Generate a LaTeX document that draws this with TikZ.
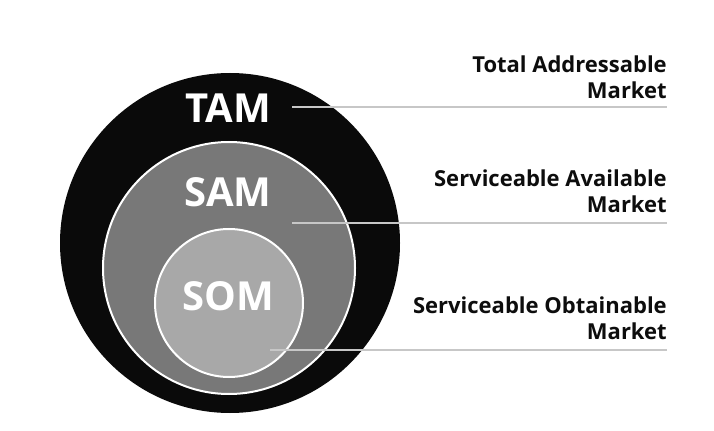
\documentclass[tikz,border=0pt]{standalone}
\usepackage{fontspec}
\setmainfont{Open Sans}
\begin{document}
\begin{tikzpicture}[x=0.75pt,y=-0.75pt,
  ring/.style={circle,draw=white,line width=1.5pt,inner sep=0pt},
  big/.style={text=white,font=\fontsize{30pt}{32pt}\selectfont\bfseries,inner sep=0pt,anchor=base},
  lab/.style={font=\fontsize{16.5pt}{19.5pt}\selectfont\bfseries,align=right,inner sep=0pt,text depth=0pt,anchor=south east,text=black!95},
  leader/.style={draw=black!22,line width=1.5pt}]
\useasboundingbox (0,0) rectangle (714,431);
\fill[white] (0,0) rectangle (714,431);
\node[circle,fill=black!96,minimum size=340*0.75pt,inner sep=0pt] (tam) at (230,243) {};
\node[ring,fill=black!53,minimum size=252*0.75pt] (sam) at (229,268) {};
\node[ring,fill=black!34,minimum size=148*0.75pt] (som) at (229,303) {};
\node[big] (tamt) at (228,123) {TAM};
\node[big] (samt) at (228,207) {SAM};
\node[big] (somt) at (228,310) {SOM};
\node[lab] (taml) at (667,99) {Total Addressable\\Market};
\node[lab] (saml) at (667,213) {Serviceable Available\\Market};
\node[lab] (soml) at (667,340) {Serviceable Obtainable\\Market};
\coordinate (a1) at (292,107); \coordinate (a2) at (667,107);
\coordinate (b1) at (292,223); \coordinate (b2) at (667,223);
\coordinate (c1) at (270,350); \coordinate (c2) at (667,350);
\draw[leader] (a1) -- (a2);
\draw[leader] (b1) -- (b2);
\draw[leader] (c1) -- (c2);
\end{tikzpicture}
\end{document}
